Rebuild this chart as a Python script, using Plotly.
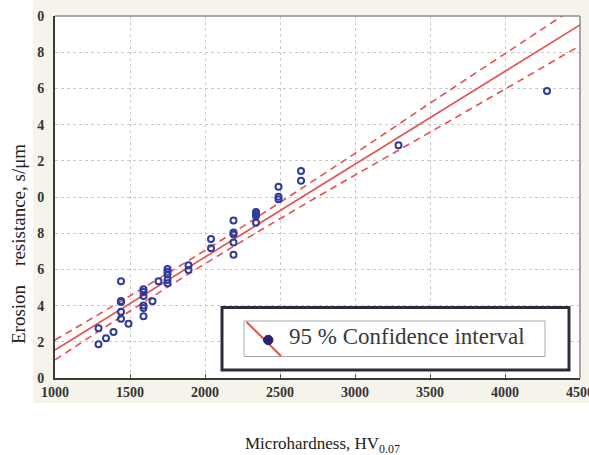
import plotly.graph_objects as go

# ---- data ----
hv = [1290, 1290, 1340, 1390, 1440, 1440, 1440, 1440, 1440, 1490,
      1590, 1590, 1590, 1590, 1590, 1590, 1650, 1690,
      1750, 1750, 1750, 1750, 1750, 1890, 1890, 2040, 2040,
      2190, 2190, 2190, 2190, 2190, 2340, 2340, 2340, 2340,
      2490, 2490, 2490, 2640, 2640, 3290, 4280]
erosion = [2.75, 1.86, 2.19, 2.54, 5.34, 4.25, 4.20, 3.66, 3.28, 3.00,
           4.90, 4.75, 4.53, 4.00, 3.87, 3.41, 4.24, 5.34,
           6.02, 5.87, 5.73, 5.41, 5.23, 6.23, 5.97, 7.68, 7.17,
           8.70, 8.04, 7.94, 7.49, 6.81, 9.17, 9.06, 8.95, 8.58,
           10.57, 10.02, 9.87, 11.44, 10.90, 12.86, 15.86]

band_x = [1000, 1500, 2000, 2500, 3000, 3500, 4000, 4500]
fit_y = [1.55, 4.12, 6.68, 9.25, 11.81, 14.38, 16.94, 19.51]
upper_y = [2.10, 4.54, 7.05, 9.70, 12.41, 15.18, 17.92, 20.66]
lower_y = [1.00, 3.70, 6.31, 8.80, 11.21, 13.58, 15.96, 18.36]

x_ticks = [1000, 1500, 2000, 2500, 3000, 3500, 4000, 4500]
y_ticks = [0, 2, 4, 6, 8, 10, 12, 14, 16, 18, 20]
y_ticktext = ["0", "2", "4", "6", "8", "0", "2", "4", "6", "8", "0"]

legend_text = "95 % Confidence interval"
x_title = "Microhardness, HV<sub>0.07</sub>"
y_title = "Erosion&nbsp;&nbsp;&nbsp;&nbsp;resistance, s/μm"

RED = "#e5514f"
BLUE = "#2f3b98"
SERIF = "Liberation Serif"

# plot area in pixels
W, H = 589, 455
L, R, T, B = 55, 9, 16, 77
PW, PH = W - L - R, H - T - B


def px(x):
    return (x - L) / PW


def py(y):
    return (H - B - y) / PH


fig = go.Figure()
fig.add_trace(go.Scatter(x=band_x, y=upper_y, mode="lines", line_shape="spline",
                         line=dict(color=RED, width=1.6, dash="7px,5px"), hoverinfo="skip"))
fig.add_trace(go.Scatter(x=band_x, y=lower_y, mode="lines", line_shape="spline",
                         line=dict(color=RED, width=1.6, dash="7px,5px"), hoverinfo="skip"))
fig.add_trace(go.Scatter(x=band_x, y=fit_y, mode="lines",
                         line=dict(color=RED, width=1.6), hoverinfo="skip"))
fig.add_trace(go.Scatter(x=hv, y=erosion, mode="markers",
                         marker=dict(symbol="circle-open", size=6, color=BLUE,
                                     line=dict(width=2, color=BLUE))))

shapes = [
    # cream background behind the plot
    dict(type="rect", xref="paper", yref="paper", x0=px(33), x1=px(600), y0=py(403), y1=py(-5),
         fillcolor="#f6f4ea", line=dict(width=0), layer="below"),
    dict(type="rect", xref="paper", yref="paper", x0=0, x1=1, y0=0, y1=1,
         fillcolor="white", line=dict(width=0), layer="below"),
    # top and right frame
    dict(type="line", xref="paper", yref="paper", x0=0, x1=1, y0=1, y1=1,
         line=dict(color="#8c8c8c", width=1.5)),
    dict(type="line", xref="paper", yref="paper", x0=1, x1=1, y0=0, y1=1,
         line=dict(color="#8c8c8c", width=1.5)),
    # legend box
    dict(type="rect", xref="paper", yref="paper", x0=px(222), x1=px(569), y0=py(370), y1=py(307.5),
         fillcolor="white", line=dict(color="#2b2e38", width=3)),
    dict(type="rect", xref="paper", yref="paper", x0=px(244), x1=px(545), y0=py(356.5), y1=py(321),
         fillcolor="white", line=dict(color="#a4a9b0", width=1)),
    dict(type="line", xref="paper", yref="paper", x0=px(246.5), x1=px(281), y0=py(322), y1=py(356),
         line=dict(color=RED, width=2)),
    dict(type="circle", xref="paper", yref="paper", x0=px(263.5), x1=px(273), y0=py(344.7), y1=py(335.3),
         fillcolor="#26236e", line=dict(color="#26236e", width=1)),
]

annotations = [
    dict(text=legend_text, xref="paper", yref="paper", x=px(287), y=py(336), xanchor="left",
         yanchor="middle", showarrow=False, font=dict(family=SERIF, size=23, color="#3a3a3a")),
    dict(text=x_title, xref="paper", yref="paper", x=px(322), y=py(445), xanchor="center",
         yanchor="middle", showarrow=False, font=dict(family=SERIF, size=17, color="#222")),
    dict(text=y_title, xref="paper", yref="paper", x=px(19), y=py(244), xanchor="center",
         yanchor="middle", showarrow=False, textangle=-90,
         font=dict(family=SERIF, size=19, color="#222")),
]

fig.update_layout(
    width=W, height=H,
    margin=dict(l=L, r=R, t=T, b=B, autoexpand=False),
    paper_bgcolor="white",
    plot_bgcolor="rgba(0,0,0,0)",
    showlegend=False,
    shapes=shapes,
    annotations=annotations,
    xaxis=dict(range=[1000, 4500], tickvals=x_ticks, ticktext=[str(v) for v in x_ticks],
               showgrid=True, gridcolor="#c9c9c9", griddash="dot", gridwidth=1,
               showline=True, linecolor="#3a3a3a", linewidth=2,
               ticks="inside", ticklen=4, tickcolor="#555",
               ticklabeloverflow="allow",
               tickfont=dict(family=SERIF, size=14, color="#333", weight="bold"),
               zeroline=False),
    yaxis=dict(range=[0, 20], tickvals=y_ticks, ticktext=y_ticktext,
               showgrid=True, gridcolor="#c9c9c9", griddash="dot", gridwidth=1,
               showline=True, linecolor="#3a3a3a", linewidth=2,
               ticks="", ticklabelstandoff=6, ticklabeloverflow="allow",
               tickfont=dict(family=SERIF, size=14, color="#333", weight="bold"),
               zeroline=False),
)

fig.write_html("out.html", config={"displayModeBar": False},
               post_script="document.body.style.margin='0';document.body.style.padding='0';")
